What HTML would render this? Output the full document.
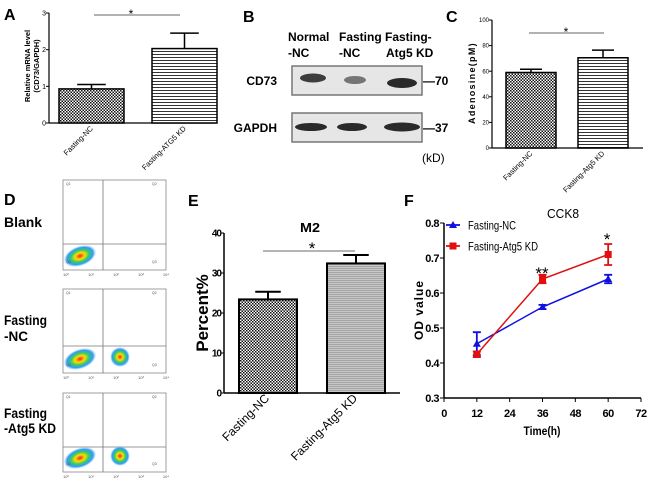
<!DOCTYPE html>
<html><head><meta charset="utf-8"><style>
body{margin:0;background:#fff;}
svg{display:block;font-family:"Liberation Sans",sans-serif;}
.n{font-family:"Liberation Sans Narrow","Liberation Sans",sans-serif;}
</style></head><body>
<svg id="fig" width="650" height="483" viewBox="0 0 650 483" xmlns="http://www.w3.org/2000/svg">
<defs>
<pattern id="chk" width="3" height="3" patternUnits="userSpaceOnUse"><rect width="3" height="3" fill="#fff"/><rect width="1.5" height="1.5" fill="#111"/><rect x="1.5" y="1.5" width="1.5" height="1.5" fill="#111"/></pattern>
<pattern id="hl" width="4" height="3" patternUnits="userSpaceOnUse"><rect width="4" height="3" fill="#fff"/><rect width="4" height="1" fill="#333"/></pattern>
<pattern id="hlg" width="4" height="2" patternUnits="userSpaceOnUse"><rect width="4" height="2" fill="#c8c8c8"/><rect width="4" height="1" fill="#a5a5a5"/></pattern>
<radialGradient id="blob"><stop offset="0" stop-color="#e22"/><stop offset="0.3" stop-color="#fd0"/><stop offset="0.55" stop-color="#3c6"/><stop offset="0.8" stop-color="#39f"/><stop offset="1" stop-color="#9cf" stop-opacity="0"/></radialGradient>
</defs>
<g id="gA"></g>
<g id="gB"></g>
<g id="gC"></g>
<g id="gD"></g>
<g id="gE"></g>
<g id="gF"></g>
</svg>
<script>
// Panel A data
const aCats = ["Fasting-NC", "Fasting-ATG5 KD"];
const aVals = [0.93, 2.03];
const aErrs = [0.12, 0.42];
const aTicks = [0, 1, 2, 3];
// Panel C data
const cCats = ["Fasting-NC", "Fasting-Atg5 KD"];
const cVals = [59, 70.5];
const cErrs = [2.5, 6];
const cTicks = [0, 20, 40, 60, 80, 100];
// Panel E data
const eCats = ["Fasting-NC", "Fasting-Atg5 KD"];
const eVals = [23.4, 32.4];
const eErrs = [1.9, 2.1];
const eTicks = [0, 10, 20, 30, 40];
// Panel F data
const fTimes = [12, 36, 60];
const fNC = [0.455, 0.56, 0.64];
const fNCerr = [0.033, 0.006, 0.012];
const fKD = [0.425, 0.64, 0.71];
const fKDerr = [0.008, 0.012, 0.03];
const fXTicks = [0, 12, 24, 36, 48, 60, 72];
const fYTicks = [0.3, 0.4, 0.5, 0.6, 0.7, 0.8];

const NS="http://www.w3.org/2000/svg";
function el(parent,tag,attrs,text){const e=document.createElementNS(NS,tag);for(const k in attrs)e.setAttribute(k,attrs[k]);if(text!==undefined)e.textContent=text;parent.appendChild(e);return e;}

function barPanel(g,o){
  const y=v=>o.y0-(v-o.min)/(o.max-o.min)*(o.y0-o.y1);
  const ax=el(g,'line',{x1:o.ax,y1:o.y1,x2:o.ax,y2:o.y0,stroke:'#000','stroke-width':o.sw});
  
  
  const bx=el(g,'line',{x1:o.ax,y1:o.y0,x2:o.axEnd,y2:o.y0,stroke:'#000','stroke-width':o.sw});
  
  
  o.ticks.forEach(t=>{
    el(g,'line',{x1:o.ax-3,y1:y(t),x2:o.ax,y2:y(t),stroke:'#000','stroke-width':1});
    const tl=el(g,'text',{x:o.ax-3,y:y(t)+o.tfs*0.35,'font-size':o.tfs,'text-anchor':'end','font-weight':o.tfw||'normal',class:'n','letter-spacing':o.tls||0},t);
    
    
  });
  o.vals.forEach((v,i)=>{
    const x0=o.bx[i],w=o.bw;
    const r=el(g,'rect',{x:x0,y:y(v),width:w,height:o.y0-y(v),fill:o.fills[i],stroke:'#000','stroke-width':o.bsw});
    
    
    const cx=x0+w/2,ey=y(v+o.errs[i]);
    const eb=el(g,'path',{d:`M${cx},${y(v)}V${ey}M${cx-w*0.22},${ey}H${cx+w*0.22}`,stroke:'#000','stroke-width':o.bsw,fill:'none'});
    
    
    const lx=cx+2,ly=o.y0+6;
    const xl=el(g,'text',{x:lx,y:ly,'font-size':o.xfs,'text-anchor':'end',transform:`rotate(-45 ${lx} ${ly})`,'font-weight':o.xfw||'normal'},o.cats[i]);
    
    
  });
}

// A
const gA=document.getElementById('gA');
el(gA,'text',{x:4,y:20,'font-size':16,'font-weight':'bold'},'A');
barPanel(gA,{ax:49,axEnd:215,y0:123,y1:13,min:0,max:3,ticks:aTicks,vals:aVals,errs:aErrs,cats:aCats,bx:[59,152],bw:65,fills:['url(#chk)','url(#hl)'],sw:1.2,bsw:1.5,tfs:7,xfs:7.5});
el(gA,'line',{x1:94,y1:15,x2:180,y2:15,stroke:'#666','stroke-width':1});
el(gA,'text',{x:131,y:18,'font-size':12,'text-anchor':'middle'},'*');
{const t=el(gA,'text',{x:0,y:0,'font-size':7.5,'font-weight':'bold','text-anchor':'middle',transform:'translate(30,66) rotate(-90)'},'Relative mRNA level');
 el(gA,'text',{x:0,y:0,'font-size':7.5,'font-weight':'bold','text-anchor':'middle',transform:'translate(39,66) rotate(-90)'},'(CD73/GAPDH)');}

// B
const gB=document.getElementById('gB');
el(gB,'text',{x:243,y:22,'font-size':16,'font-weight':'bold'},'B');
[['Normal',288],['Fasting',339],['Fasting-',385]].forEach(a=>el(gB,'text',{x:a[1],y:41,'font-size':12,'font-weight':'bold'},a[0]));
[['-NC',288],['-NC',339],['Atg5 KD',386]].forEach(a=>el(gB,'text',{x:a[1],y:57,'font-size':12,'font-weight':'bold'},a[0]));
[[66,'CD73','—70',[[313,78,13,4.5,0.9],[355,80,11,4,0.6],[402,83,15,5,1]]],[113,'GAPDH','—37',[[311,127,16,4,1],[352,127,15,4,1],[402,127,18,4.5,1]]]].forEach((b,bi)=>{
  const r=el(gB,'rect',{x:292,y:b[0],width:130,height:29,fill:'#e6e6e6',stroke:'#777','stroke-width':1.5});
  
  
  el(gB,'text',{x:277,y:b[0]+19,'font-size':12,'font-weight':'bold','text-anchor':'end'},b[1]);
  el(gB,'text',{x:423,y:b[0]+19,'font-size':12,'font-weight':'bold'},b[2]);
  b[3].forEach(e=>el(gB,'ellipse',{cx:e[0],cy:e[1],rx:e[2],ry:e[3],fill:'#2a2a2a',opacity:e[4]}));
});
el(gB,'text',{x:422,y:162,'font-size':12},'(kD)');

// C
const gC=document.getElementById('gC');
el(gC,'text',{x:446,y:22,'font-size':16,'font-weight':'bold'},'C');
barPanel(gC,{ax:492,axEnd:643,y0:148,y1:20,min:0,max:100,ticks:cTicks,vals:cVals,errs:cErrs,cats:cCats,bx:[506,578],bw:50,fills:['url(#chk)','url(#hl)'],sw:1.2,bsw:1.5,tfs:6,xfs:7.5});
el(gC,'line',{x1:529,y1:33,x2:604,y2:33,stroke:'#666','stroke-width':1});
el(gC,'text',{x:566,y:36,'font-size':12,'text-anchor':'middle'},'*');
{const t=el(gC,'text',{x:0,y:0,'font-size':9,'font-weight':'bold','text-anchor':'middle','letter-spacing':'1.3',transform:'translate(475,83) rotate(-90)'},'Adenosine(pM)');}

// D (flow cytometry)
const gD=document.getElementById('gD');
el(gD,'text',{x:4,y:205,'font-size':16,'font-weight':'bold'},'D');
[[180,270,244,false,[['Blank',227,38]]],[289,373,346,true,[['Fasting',325,43],['-NC',341,24]]],[393,472,447,true,[['Fasting',418,43],['-Atg5 KD',433,52]]]].forEach((p,i)=>{
  const [t,b,h,two,labs]=p;
  const r=el(gD,'rect',{x:63,y:t,width:103,height:b-t,fill:'#fff',stroke:'#888','stroke-width':0.8});
  
  
  el(gD,'line',{x1:103,y1:t,x2:103,y2:b,stroke:'#777','stroke-width':0.8});
  el(gD,'line',{x1:63,y1:h,x2:166,y2:h,stroke:'#777','stroke-width':0.8});
  el(gD,'ellipse',{cx:80,cy:b-14,rx:17,ry:10,fill:'url(#blob)',transform:`rotate(-20 80 ${b-14})`});
  if(two) el(gD,'ellipse',{cx:120,cy:b-16,rx:10,ry:10,fill:'url(#blob)'});
  el(gD,'text',{x:66,y:t+5,'font-size':3.5,fill:'#555'},'Q1');
  el(gD,'text',{x:152,y:t+5,'font-size':3.5,fill:'#555'},'Q2');
  el(gD,'text',{x:66,y:b-7,'font-size':3.5,fill:'#555'},'Q4');
  el(gD,'text',{x:152,y:b-7,'font-size':3.5,fill:'#555'},'Q3');
  ['10⁰','10¹','10²','10³','10⁴'].forEach((s,k)=>el(gD,'text',{x:66+k*25,y:b+6,'font-size':4,fill:'#555','text-anchor':'middle'},s));
  labs.forEach(l=>el(gD,'text',{x:4,y:l[1],'font-size':13.5,'font-weight':'bold',textLength:l[2],lengthAdjust:'spacingAndGlyphs'},l[0]));
});

// E
const gE=document.getElementById('gE');
el(gE,'text',{x:188,y:206,'font-size':16,'font-weight':'bold'},'E');
barPanel(gE,{ax:224,axEnd:400,y0:393,y1:233,min:0,max:40,ticks:eTicks,vals:eVals,errs:eErrs,cats:eCats,bx:[239,327],bw:58,fills:['url(#chk)','url(#hlg)'],sw:1.5,bsw:2,tfs:10,tfw:'bold',tls:-1,xfs:12});
el(gE,'text',{x:310,y:232,'font-size':13,'font-weight':'bold','text-anchor':'middle',textLength:20,lengthAdjust:'spacingAndGlyphs'},'M2');
el(gE,'line',{x1:263,y1:251,x2:355,y2:251,stroke:'#888','stroke-width':1.2});
el(gE,'text',{x:312,y:254,'font-size':17,'text-anchor':'middle'},'*');
{const t=el(gE,'text',{x:0,y:0,'font-size':17,'font-weight':'bold','text-anchor':'middle',transform:'translate(208,313) rotate(-90)'},'Percent%');}

// F
const gF=document.getElementById('gF');
el(gF,'text',{x:404,y:206,'font-size':16,'font-weight':'bold'},'F');
const fx=t=>444+t/72*(641-444);
const fy=v=>398-(v-0.3)/0.5*(398-223);
el(gF,'line',{x1:444,y1:223,x2:444,y2:398,stroke:'#000','stroke-width':1.5});
el(gF,'line',{x1:444,y1:398,x2:641,y2:398,stroke:'#000','stroke-width':1.5});
fYTicks.forEach(v=>{el(gF,'line',{x1:440,y1:fy(v),x2:444,y2:fy(v),stroke:'#000'});
  const t=el(gF,'text',{x:439,y:fy(v)+4,'font-size':11,'font-weight':'bold','text-anchor':'end',class:'n','letter-spacing':-0.5},v.toFixed(1));
  
  });
fXTicks.forEach(v=>{el(gF,'line',{x1:fx(v),y1:398,x2:fx(v),y2:402,stroke:'#000'});
  const t=el(gF,'text',{x:fx(v),y:417,'font-size':11,'font-weight':'bold','text-anchor':'middle',class:'n','letter-spacing':-0.5},v);
  
  });
el(gF,'text',{x:542,y:435,'font-size':12,'font-weight':'bold','text-anchor':'middle',textLength:37,lengthAdjust:'spacingAndGlyphs'},'Time(h)');
{const t=el(gF,'text',{x:0,y:0,'font-size':12,'font-weight':'bold','text-anchor':'middle','letter-spacing':'1',transform:'translate(423,310) rotate(-90)'},'OD value');}
el(gF,'text',{x:563,y:218,'font-size':13,'text-anchor':'middle',textLength:32,lengthAdjust:'spacingAndGlyphs'},'CCK8');
[[fNC,fNCerr,'#1010e0','tri','fasting-nc'],[fKD,fKDerr,'#e01010','sq','fasting-atg5-kd']].forEach(s=>{
  const [vals,errs,col,mk,nm]=s;
  const line=el(gF,'polyline',{points:fTimes.map((t,i)=>fx(t)+','+fy(vals[i])).join(' '),fill:'none',stroke:col,'stroke-width':1.5});
  
  
  fTimes.forEach((t,i)=>{
    const x=fx(t),y=fy(vals[i]),e1=fy(vals[i]+errs[i]),e2=fy(vals[i]-errs[i]);
    el(gF,'path',{d:`M${x},${e1}V${e2}M${x-4},${e1}H${x+4}M${x-4},${e2}H${x+4}`,stroke:col,'stroke-width':1.8,fill:'none'});
    const m=mk==='tri'?el(gF,'path',{d:`M${x},${y-4}L${x+4},${y+3}L${x-4},${y+3}Z`,fill:col}):el(gF,'rect',{x:x-3.5,y:y-3.5,width:7,height:7,fill:col});
    
    
  });
});
el(gF,'text',{x:542,y:279,'font-size':17,'text-anchor':'middle'},'**');
el(gF,'text',{x:607,y:245,'font-size':17,'text-anchor':'middle'},'*');
[[225,'#1010e0','tri','Fasting-NC',48],[246,'#e01010','sq','Fasting-Atg5 KD',70]].forEach(l=>{
  const g=el(gF,'g',{});
  
  
  el(g,'line',{x1:446,y1:l[0],x2:460,y2:l[0],stroke:l[1],'stroke-width':1.8});
  if(l[2]==='tri') el(g,'path',{d:`M453,${l[0]-4}L457,${l[0]+3}L449,${l[0]+3}Z`,fill:l[1]});
  else el(g,'rect',{x:449.5,y:l[0]-3.5,width:7,height:7,fill:l[1]});
  el(g,'text',{x:468,y:l[0]+4.5,'font-size':12,textLength:l[4],lengthAdjust:'spacingAndGlyphs'},l[3]);
});
</script>
</body></html>
